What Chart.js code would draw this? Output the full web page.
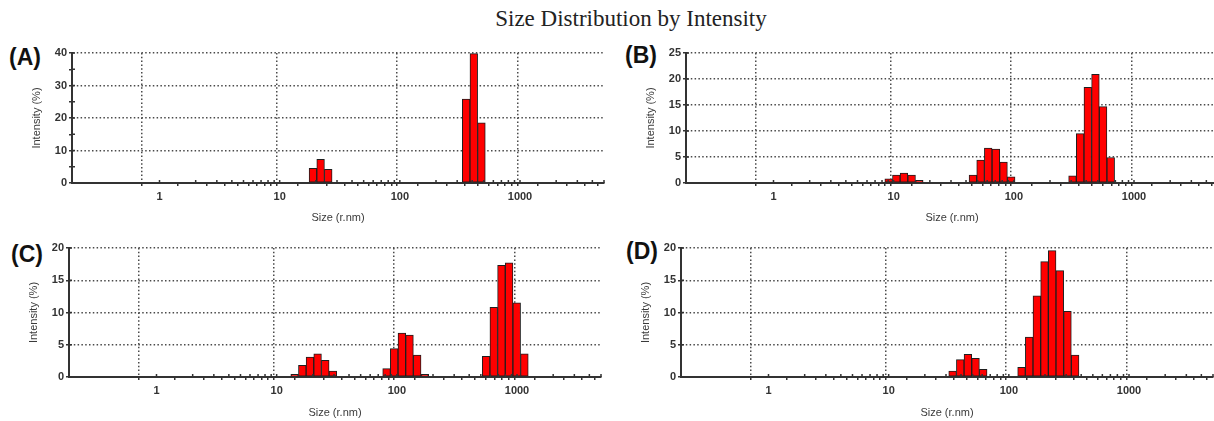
<!DOCTYPE html>
<html>
<head>
<meta charset="utf-8">
<script src="https://cdn.jsdelivr.net/npm/chart.js@4.4.1/dist/chart.umd.min.js"></script>
<style>
  html, body { margin: 0; padding: 0; background: #fff; }
  body { position: relative; width: 1214px; height: 421px; overflow: hidden; }
  .panel { position: absolute; width: 614px; height: 200px; }
  .tag { position: absolute; font: bold 23px "Liberation Sans", Arial, sans-serif; color: #111; line-height: 23px; }
  #title { position: absolute; left: 400px; width: 462px; top: 6px; text-align: center;
    font: 23px "Liberation Serif", "Times New Roman", serif; color: #222; line-height: 26px; }
</style>
</head>
<body>
<div id="title">Size Distribution by Intensity</div>

<div class="tag" style="left:9px;top:46px">(A)</div>
<div class="tag" style="left:625px;top:44px">(B)</div>
<div class="tag" style="left:11px;top:243px">(C)</div>
<div class="tag" style="left:626px;top:240px">(D)</div>

<div class="panel" style="left:0px;top:30px"><canvas id="chartA" width="614" height="200"></canvas></div>
<div class="panel" style="left:614px;top:30px"><canvas id="chartB" width="614" height="200"></canvas></div>
<div class="panel" style="left:-3px;top:225px"><canvas id="chartC" width="614" height="200"></canvas></div>
<div class="panel" style="left:609px;top:225px"><canvas id="chartD" width="614" height="200"></canvas></div>

<script>
// size classes (r.nm) and intensity (%)
const sizeA = [18.92, 21.91, 25.37, 356.2, 412.5, 477.7];
const intensityA = [4.5, 7.3, 4.2, 25.8, 39.8, 18.5];

const sizeB = [9.085, 10.52, 12.18, 14.11, 16.34, 45.64, 52.85, 61.2, 70.9, 82.1, 95.05,
  307.6, 356.2, 412.5, 477.7, 553, 640.5];
const intensityB = [0.8, 1.5, 1.9, 1.5, 0.5, 1.5, 4.4, 6.7, 6.5, 4.0, 1.2,
  1.4, 9.5, 18.4, 20.9, 14.7, 4.9];

const sizeC = [14.11, 16.34, 18.92, 21.91, 25.37, 29.38, 82.1, 95.05, 110.1, 127.5, 147.7, 171.0,
  553, 640.5, 742, 859, 995, 1152.5];
const intensityC = [0.4, 1.8, 3.1, 3.6, 2.6, 0.9, 1.3, 4.4, 6.8, 6.5, 3.4, 0.4,
  3.2, 10.8, 17.3, 17.7, 11.5, 3.6];

const sizeD = [34.03, 39.41, 45.64, 52.85, 61.2, 127.5, 147.7, 171.0, 198.1, 229.4, 265.6, 307.6, 356.2];
const intensityD = [0.9, 2.7, 3.5, 2.9, 1.2, 1.5, 6.2, 12.6, 17.9, 19.6, 16.5, 10.2, 3.4];

// axis ticks
const decadeLabels = [1, 10, 100, 1000];
const sizeMin = 0.187, sizeMax = 5000;
const yMaxA = 40, yMaxB = 25, yMaxC = 20, yMaxD = 20;
const yMajorA = 10, yMajorB = 5, yMajorC = 5, yMajorD = 5;

const xTickValues = [];
decadeLabels.forEach((d) => {
  for (let k = 1; k <= 9; k++) {
    if (d * k <= sizeMax) xTickValues.push(d * k);
  }
});

Chart.defaults.font.family = '"Liberation Sans", Arial, sans-serif';

const hidden = "rgba(0,0,0,0)",
  dotColor = "#4a4a4a",
  axisColor = "#333";

// tick marks poke a little into the plot, like the instrument software draws them
const innerTicks = {
  id: "innerTicks",
  afterDatasetsDraw(chart) {
    const { ctx, scales: { x, y } } = chart;
    ctx.save();
    ctx.strokeStyle = axisColor;
    ctx.lineWidth = 1.5;
    ctx.beginPath();
    x.ticks.forEach((t) => {
      const px = x.getPixelForValue(t.value);
      ctx.moveTo(px, y.bottom);
      ctx.lineTo(px, y.bottom - 3);
    });
    y.ticks.forEach((t) => {
      const py = y.getPixelForValue(t.value);
      ctx.moveTo(x.left, py);
      ctx.lineTo(x.left + 3, py);
    });
    ctx.stroke();
    ctx.restore();
  },
};

const makeChart = (id, sizes, values, yMax, yMajor, plotHeight) => {
  const points = sizes.map((s, i) => ({ x: s, y: values[i] }));
  const config = {
    type: "bar",
    data: {
      datasets: [
        {
          data: points,
          backgroundColor: "#ff0000",
          borderColor: "#1e1e1e",
          borderWidth: 1,
          borderSkipped: false,
          // one bar spans one size class on the log axis
          barThickness: (ctx) => {
            const x = ctx.chart.scales.x;
            if (!x || !x.width) return undefined;
            return x.getPixelForValue(sizes[1]) - x.getPixelForValue(sizes[0]);
          },
        },
      ],
    },
    options: {
      responsive: false,
      animation: false,
      events: [],
      layout: { padding: { top: 23, right: 10, left: 0, bottom: 0 } },
      plugins: { legend: { display: false }, tooltip: { enabled: false } },
      scales: {
        x: {
          type: "logarithmic",
          min: sizeMin,
          max: sizeMax,
          afterBuildTicks: (scale) => {
            scale.ticks = xTickValues.map((v) => ({ value: v }));
          },
          afterFit: (scale) => {
            scale.height = 200 - 23 - plotHeight;
          },
          ticks: {
            autoSkip: false,
            maxRotation: 0,
            padding: 4,
            color: axisColor,
            font: { size: 11, weight: "bold" },
            callback: (v) => (decadeLabels.includes(v) ? String(v) : ""),
          },
          grid: {
            color: (ctx) => (ctx.tick && decadeLabels.includes(ctx.tick.value) ? dotColor : hidden),
            lineWidth: 1.5,
            tickColor: axisColor,
            tickLength: 3,
            tickWidth: 1.5,
          },
          border: { color: axisColor, width: 2, dash: [1.5, 2.3] },
          title: {
            display: true,
            text: "Size (r.nm)",
            color: "#3a3a3a",
            font: { size: 11 },
            padding: { top: 0, bottom: 5 },
          },
        },
        y: {
          min: 0,
          max: yMax,
          afterFit: (scale) => {
            scale.width = 72;
          },
          ticks: {
            stepSize: yMajor / 2,
            padding: 2,
            color: axisColor,
            font: { size: 11, weight: "bold" },
            callback: (v) => (v % yMajor === 0 ? String(v) : ""),
          },
          grid: {
            color: (ctx) => (ctx.tick && ctx.tick.value % yMajor === 0 ? dotColor : hidden),
            lineWidth: 1.5,
            tickColor: axisColor,
            tickLength: 3,
            tickWidth: 1.5,
          },
          border: { color: axisColor, width: 2, dash: [1.5, 2.3] },
          title: {
            display: true,
            text: "Intensity (%)",
            color: "#3a3a3a",
            font: { size: 11 },
            padding: { top: 30, bottom: 0 },
          },
        },
      },
    },
    plugins: [innerTicks],
  };
  return new Chart(document.getElementById(id), config);
};

window.addEventListener("load", () => {
  makeChart("chartA", sizeA, intensityA, yMaxA, yMajorA, 130);
  makeChart("chartB", sizeB, intensityB, yMaxB, yMajorB, 130);
  makeChart("chartC", sizeC, intensityC, yMaxC, yMajorC, 129);
  makeChart("chartD", sizeD, intensityD, yMaxD, yMajorD, 129);
});
</script>
</body>
</html>
